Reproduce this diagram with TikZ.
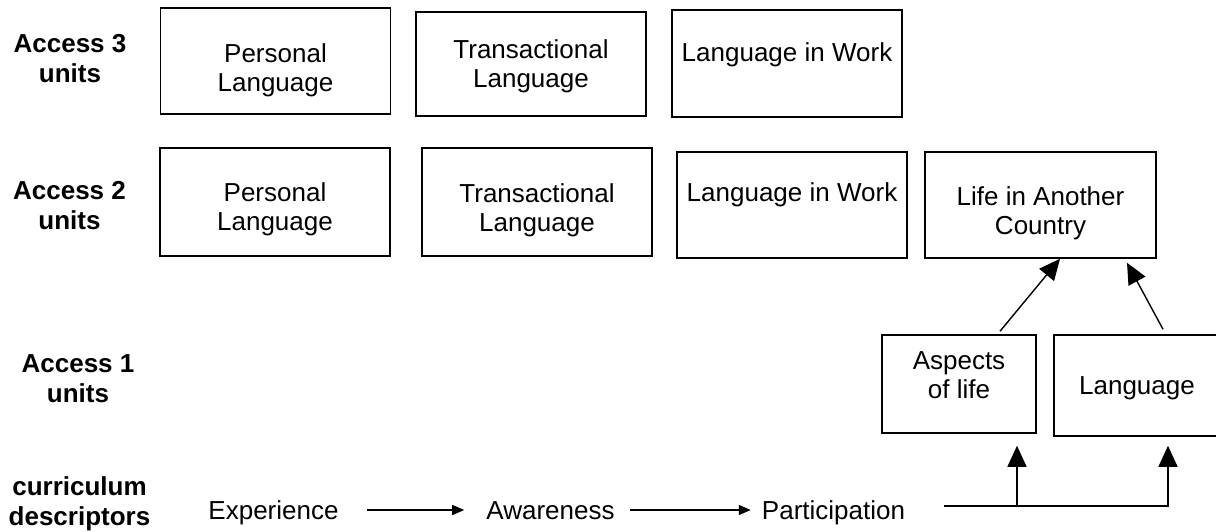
\documentclass[tikz,border=0pt]{standalone}
\usepackage{fontspec}
\setmainfont{Liberation Sans}
\usetikzlibrary{arrows.meta}

\begin{document}
\begin{tikzpicture}[x=1pt, y=-1pt,
  every node/.style={font=\fontsize{26}{29}\selectfont},
  unitbox/.style={draw, line width=1.5pt, inner sep=0pt, minimum width=230pt, minimum height=106pt},
  boxtext/.style={anchor=north, align=center, inner sep=0pt},
  rowlabel/.style={font=\fontsize{26}{30}\selectfont\bfseries, align=center, inner sep=0pt},
  stagetext/.style={anchor=base, inner sep=0pt},
  bigarrow/.style={line width=1.4pt, -{Triangle[length=21pt, width=19pt]}},
  smallarrow/.style={line width=1.4pt, -{Triangle[length=12pt, width=10pt]}}]
  \useasboundingbox (0,0) rectangle (1216,531);

  % row labels
  \node[rowlabel] (acc3) at (70,58.5) {Access 3\\units};
  \node[rowlabel] (acc2) at (69.5,205.5) {Access 2\\units};
  \node[rowlabel] (acc1) at (78,378.5) {Access 1\\units};
  \node[rowlabel] (curr) at (79.5,503.5) {curriculum\\descriptors};

  % access 3
  \node[unitbox, label={[boxtext, yshift=-36pt]north:Personal\\Language}] (pers3) at (275.5,61) {};
  \node[unitbox, minimum height=104pt, label={[boxtext, yshift=-28pt]north:Transactional\\Language}] (trans3) at (531,64) {};
  \node[unitbox, minimum height=107pt, label={[boxtext, yshift=-33pt]north:Language in Work}] (work3) at (787,63.5) {};

  % access 2
  \node[unitbox, minimum height=108pt, label={[boxtext, yshift=-35pt]north:Personal\\Language}] (pers2) at (275,202) {};
  \node[unitbox, minimum height=108pt, label={[boxtext, yshift=-36pt]north:Transactional\\Language}] (trans2) at (537,202) {};
  \node[unitbox, label={[boxtext, yshift=-31pt]north:Language in Work}] (work2) at (792,205) {};
  \node[unitbox, minimum width=231pt, label={[boxtext, yshift=-35pt]north:Life in Another\\Country}] (life) at (1040.5,205) {};

  % access 1
  \node[unitbox, minimum width=154pt, minimum height=98pt, label={[boxtext, yshift=-17pt]north:Aspects\\of life}] (asp) at (959,384) {};
  \node[unitbox, minimum width=166pt, minimum height=101pt, label={[boxtext, yshift=-42pt]north:Language}] (lang) at (1137,385.5) {};

  % curriculum descriptors
  \node[stagetext] (exper) at (273.5,519) {Experience};
  \node[stagetext] (aware) at (550.5,519) {Awareness};
  \node[stagetext] (partic) at (833.5,519) {Participation};
  \draw[smallarrow] ([xshift=28pt, yshift=9pt]exper.base east) -- ([xshift=-22pt, yshift=9pt]aware.base west);
  \draw[smallarrow] ([xshift=15pt, yshift=9pt]aware.base east) -- ([xshift=-11pt, yshift=9pt]partic.base west);

  \coordinate (fork) at ([xshift=39pt, yshift=13pt]partic.base east);
  \coordinate (aspfoot) at ([xshift=58pt, yshift=-12pt]asp.south);
  \coordinate (langfoot) at ([xshift=31pt, yshift=-9pt]lang.south);
  \draw[bigarrow] (fork) -| (langfoot);
  \draw[bigarrow] (aspfoot |- fork) -- (aspfoot);

  \draw[bigarrow] ([xshift=41pt, yshift=3pt]asp.north) -- ([xshift=19.5pt]life.south);
  \draw[bigarrow] ([xshift=26pt, yshift=5pt]lang.north) -- ([xshift=86.5pt, yshift=-4pt]life.south);
\end{tikzpicture}
\end{document}
